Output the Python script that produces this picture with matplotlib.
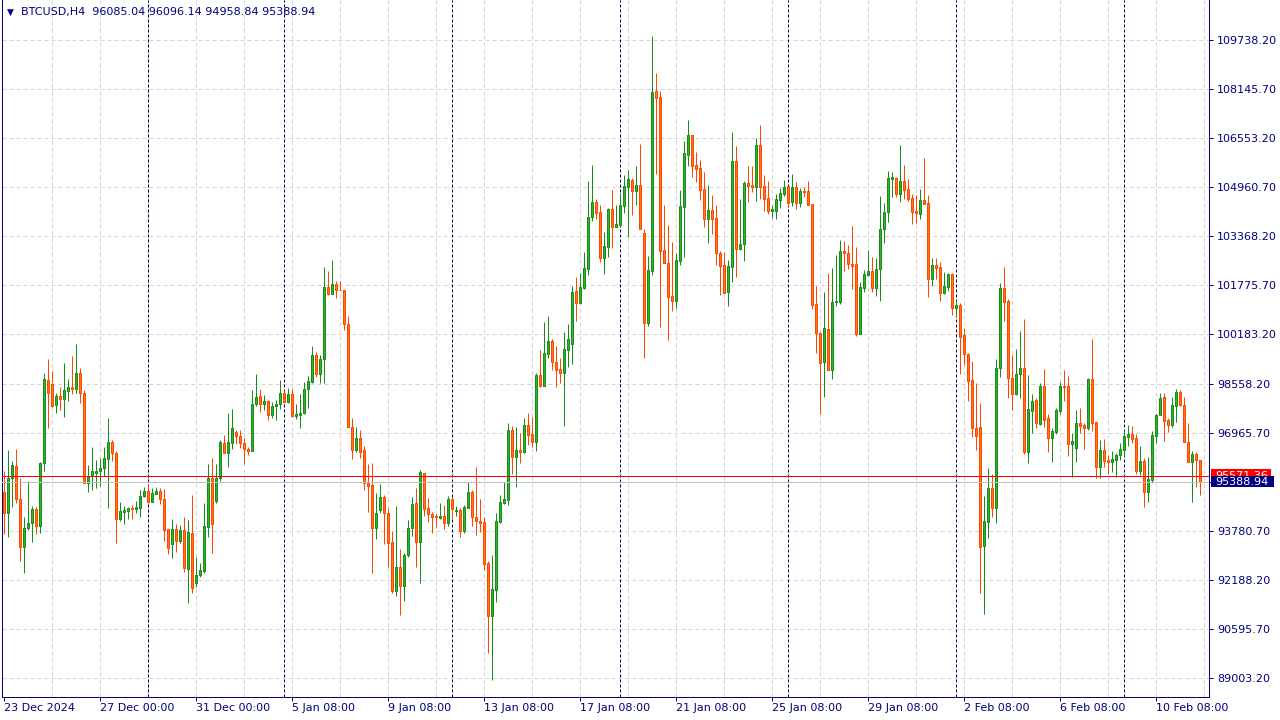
import numpy as np
import matplotlib
matplotlib.use("Agg")
import matplotlib.pyplot as plt
from matplotlib.patches import Rectangle
import matplotlib.transforms as mtrans

# ---------------- data (H4 candles) ----------------
opens = [
    95037, 94355, 95492, 95893, 94810, 93272, 93867, 94030, 94485, 93954,
    95980, 98688, 98558, 97886, 98168, 98060, 98341, 98450, 98385, 98905,
    98255, 95330, 95579, 95676, 95720, 95828, 96131, 96662, 96305, 94181,
    94409, 94441, 94517, 94485, 94539, 94929, 95081, 94734, 94994, 95081,
    94821, 93846, 93347, 93846, 93467, 93813, 92557, 93716, 92102, 92340,
    92492, 93922, 95492, 94767, 95514, 96630, 96326, 96651, 96987, 96879,
    96630, 96445, 96391, 97919, 98168, 97919, 98005, 97561, 97854, 97897,
    98276, 97984, 98222, 97518, 97550, 97604, 98385, 98634, 99500, 98883,
    99360, 101721, 101494, 101797, 101624, 101613, 100497, 97171, 96413, 96814,
    96413, 95351, 95276, 93889, 94463, 94896, 94376, 93423, 91842, 92622,
    92004, 93001, 93867, 94701, 93434, 95666, 94528, 94333, 94268, 94214,
    94268, 94030, 94821, 94441, 94463, 93791, 94539, 95048, 94225, 94116,
    94073, 92741, 91019, 91863, 94084, 94702, 94788, 97063, 96197, 96413,
    96348, 97226, 96933, 96684, 98851, 98504, 99522, 99956, 99262, 99035,
    98927, 99663, 99847, 101581, 101202, 101689, 102306, 103975, 104473, 104148,
    102664, 103022, 104235, 103672, 103737, 104354, 104972, 105188, 104842, 105026,
    103455, 100552, 102242, 108081, 107886, 102913, 102480, 101418, 101267, 102567,
    104322, 106012, 106640, 105676, 105578, 104885, 103932, 104213, 103953, 102805,
    102426, 101537, 102371, 105805, 102934, 103097, 105090, 105025, 104971, 106325,
    104993, 104603, 104191, 104191, 104548, 104743, 104993, 104462, 104960, 104451,
    104830, 104830, 104408, 101158, 100204, 99284, 100345, 99013, 101212, 101234,
    102880, 102805, 102458, 102458, 100194, 101689, 102101, 102231, 101689, 102285,
    103585, 104137, 105221, 105253, 104722, 105156, 104896, 104603, 104191, 104094,
    104538, 104441, 101982, 102426, 102361, 101527, 101722, 102133, 101039, 101126,
    100151, 99533, 98688, 97117, 97150, 93304, 94084, 95167, 94539, 99067,
    101667, 101256, 98742, 98222, 98872, 99067, 96359, 97692, 98038, 97258,
    98493, 97442, 96792, 97009, 97692, 98493, 98493, 96597, 96467, 97291,
    97226, 97139, 98710, 97323, 95872, 96413, 96088, 96034, 96088, 96251,
    96424, 96825, 96933, 96814, 95742, 96056, 95048, 95438, 96879, 97551,
    98125, 97388, 97226, 97843, 98298, 97865, 96662, 96023, 96283, 96085.04,
]
highs = [
    95731, 96413, 96056, 96446, 95503, 94225, 95406, 94593, 94572, 96012,
    98926, 99370, 98991, 98255, 98450, 99251, 98710, 99468, 99858, 99067,
    98363, 95926, 96521, 96088, 96153, 96500, 97453, 96738, 96391, 94723,
    94593, 94571, 94615, 94766, 95113, 95221, 95308, 95167, 95200, 95167,
    95146, 93846, 94160, 94008, 93976, 94225, 94138, 94951, 92947, 92752,
    94702, 95958, 96153, 95958, 96738, 96901, 97605, 97746, 97063, 97063,
    96814, 96521, 98363, 98883, 98395, 98200, 98049, 97962, 98038, 98688,
    98363, 98417, 98395, 97908, 98222, 98634, 98829, 99804, 99609, 99500,
    102371, 102230, 102588, 101905, 101905, 101613, 100768, 97442, 97171, 97063,
    96543, 95958, 96001, 95026, 95308, 94951, 94528, 93791, 94593, 93196,
    93076, 94138, 94896, 95167, 95763, 95677, 94853, 94398, 94333, 94701,
    94636, 94918, 94875, 94593, 94517, 94626, 95373, 95113, 95860, 94810,
    94225, 92806, 93001, 94377, 94951, 95384, 97280, 97193, 97172, 96977,
    97464, 97605, 97497, 98927, 99663, 100573, 100768, 100021, 99793, 99403,
    100248, 100508, 101743, 102046, 102176, 102848, 105156, 105676, 104571, 104376,
    103498, 104267, 104863, 104376, 104755, 105351, 105513, 105242, 105643, 106358,
    103585, 102718, 109868, 108676, 108081, 104376, 103726, 103173, 102805, 104863,
    106456, 107138, 106640, 106098, 105838, 105448, 105026, 104701, 104376, 102892,
    102859, 102588, 106758, 106293, 104570, 105155, 105643, 105643, 106563, 106975,
    105350, 105155, 104375, 104733, 104938, 105188, 105003, 105372, 105133, 104917,
    104949, 105155, 104408, 101754, 100237, 101559, 102176, 102317, 102750, 103238,
    103205, 103076, 103693, 103000, 101862, 102263, 102913, 102696, 102642, 104679,
    104451, 105481, 105459, 105296, 106326, 105676, 105221, 104733, 104701, 104896,
    105914, 104701, 102664, 102664, 102523, 102198, 102177, 102155, 101288, 101180,
    100389, 99555, 99306, 98602, 97930, 94918, 95817, 95633, 99371, 101851,
    102371, 101310, 99501, 99696, 100281, 100671, 98851, 98233, 98114, 98580,
    99046, 97583, 97117, 97767, 98623, 99013, 98818, 96977, 97713, 97778,
    97302, 98742, 100021, 97334, 96738, 96760, 96251, 96381, 96305, 96651,
    97063, 97226, 97193, 96933, 96554, 96164, 96197, 97031, 97583, 98276,
    98276, 97464, 98146, 98385, 98363, 98146, 97280, 96391, 96359, 96096.14,
]
lows = [
    93672, 93597, 94572, 94702, 92817, 92405, 93813, 93434, 93683, 93726,
    95741, 97139, 97800, 97605, 97713, 97496, 98016, 98233, 98276, 97951,
    95330, 95059, 95113, 95189, 95243, 95579, 94539, 96066, 93401, 94116,
    94008, 94181, 94181, 94355, 94246, 94875, 94701, 94734, 94983, 94647,
    93467, 93022, 92892, 93109, 93380, 92459, 91452, 91777, 91950, 92297,
    92427, 93575, 93077, 94702, 95395, 96326, 95850, 96435, 96608, 96467,
    95969, 96250, 96380, 97854, 97659, 97713, 97388, 97464, 97388, 97745,
    97929, 97951, 97496, 97420, 97139, 97572, 97789, 98580, 98796, 98580,
    98580, 101450, 101472, 101364, 101613, 100313, 97171, 96120, 96359, 96142,
    95113, 94409, 92427, 93510, 94376, 93347, 92622, 91777, 91668, 91062,
    91517, 92925, 93618, 92622, 92102, 94268, 94084, 93726, 93921, 94171,
    93856, 93943, 94160, 94268, 93596, 93705, 94528, 93943, 93661, 93748,
    92513, 89800, 88939, 91484, 94052, 94647, 94626, 95633, 95222, 96002,
    96305, 96576, 96522, 96392, 98472, 98504, 99414, 99013, 98472, 98602,
    97193, 99122, 99208, 100617, 101158, 101635, 102101, 103856, 103921, 102534,
    102144, 102697, 102967, 103650, 103672, 104127, 103347, 104051, 104376, 103585,
    99414, 100443, 102101, 105383, 100422, 102480, 99988, 100942, 101017, 102426,
    102697, 105643, 105297, 105134, 104538, 103672, 103152, 103433, 102426, 101451,
    101505, 101104, 101862, 102046, 102924, 102566, 104483, 104808, 104516, 104570,
    104191, 104083, 103963, 103920, 104278, 104678, 104343, 104353, 104245, 104299,
    104624, 104375, 100995, 99565, 97583, 98135, 99013, 98720, 101104, 101158,
    102241, 102296, 101646, 100129, 100183, 101559, 102079, 101559, 101418, 101267,
    103130, 103834, 104646, 104646, 104484, 104571, 104506, 103758, 103780, 103921,
    104408, 101397, 101743, 101971, 101256, 101483, 101592, 100812, 100747, 98883,
    99176, 98017, 96847, 96413, 91777, 91083, 93542, 94247, 94030, 98796,
    100606, 98092, 97713, 98201, 98114, 96283, 96002, 96977, 97117, 97226,
    97172, 96359, 96034, 96933, 97572, 98017, 96218, 95547, 96034, 96955,
    96446, 97063, 97041, 95492, 95514, 95850, 95633, 95709, 95547, 96088,
    96218, 96543, 96651, 95633, 95590, 94572, 94723, 95330, 96630, 97540,
    96706, 96998, 97171, 97323, 97843, 96673, 96023, 94723, 95221, 94958.84,
]
closes = [
    94355, 95492, 95926, 94810, 93272, 93867, 94030, 94485, 93954, 95980,
    98710, 98276, 97854, 98168, 98060, 98363, 98450, 98385, 98905, 98255,
    95330, 95579, 95720, 95731, 95828, 96153, 96662, 96305, 94181, 94431,
    94463, 94517, 94485, 94561, 94918, 95081, 94734, 95005, 95081, 94810,
    93813, 93239, 93846, 93467, 93813, 92567, 93748, 91939, 92340, 92513,
    93943, 95492, 93997, 95492, 96684, 96326, 96673, 97128, 96879, 96651,
    96435, 96391, 97908, 98135, 97897, 98016, 97561, 97843, 97908, 98265,
    97984, 98222, 97529, 97583, 97615, 98395, 98655, 99500, 98872, 99360,
    101721, 101472, 101797, 101602, 101602, 100497, 97171, 96413, 96814, 96359,
    95330, 95254, 93889, 94376, 94896, 94355, 93401, 91842, 92622, 92004,
    93001, 93889, 94658, 93434, 95698, 94506, 94322, 94246, 94225, 94268,
    94051, 94821, 94485, 94463, 93791, 94550, 95048, 94246, 94116, 94051,
    92708, 91019, 91896, 94106, 94723, 94810, 97063, 96197, 96413, 96348,
    97226, 96901, 96684, 98851, 98504, 99555, 99956, 99262, 99013, 98927,
    99696, 100021, 101548, 101202, 101711, 102328, 103986, 104473, 104126, 102664,
    103043, 104235, 103672, 103758, 104376, 104993, 105221, 104842, 105026, 103585,
    100552, 102263, 108048, 107864, 102892, 102480, 101397, 101267, 102588, 104343,
    106055, 106640, 105654, 105557, 104863, 103932, 104213, 103932, 102805, 102404,
    101527, 102393, 105805, 102934, 103097, 105090, 105003, 104971, 106325, 104971,
    104581, 104191, 104245, 104570, 104765, 104960, 104451, 104960, 104451, 104830,
    104798, 104386, 101125, 100226, 99251, 100367, 99013, 101212, 101255, 102880,
    102826, 102447, 102393, 100194, 101700, 102133, 102231, 101689, 102296, 103596,
    104148, 105253, 105286, 104744, 105156, 104874, 104581, 104159, 104126, 104538,
    104419, 101982, 102426, 102339, 101527, 101743, 102133, 101039, 101126, 100097,
    99544, 98667, 97117, 96879, 93272, 94106, 95167, 94539, 99067, 101667,
    101234, 98742, 98222, 98872, 99067, 96359, 97735, 98017, 97280, 98493,
    97388, 96792, 97042, 97713, 98493, 98461, 96597, 96706, 97280, 97204,
    97139, 98710, 97301, 95872, 96413, 96066, 96023, 96121, 96251, 96446,
    96868, 96933, 96781, 95742, 96056, 95048, 95460, 96901, 97551, 98103,
    97366, 97226, 97876, 98298, 97865, 96673, 96023, 96283, 96088, 95388.94,
]

time_labels = ["23 Dec 2024", "27 Dec 00:00", "31 Dec 00:00", "5 Jan 08:00",
               "9 Jan 08:00", "13 Jan 08:00", "17 Jan 08:00", "21 Jan 08:00",
               "25 Jan 08:00", "29 Jan 08:00", "2 Feb 08:00", "6 Feb 08:00",
               "10 Feb 08:00"]
time_label_bars = [0, 24, 48, 72, 96, 120, 144, 168, 192, 216, 240, 264, 288]
week_separator_bars = [36, 70, 112, 154, 196, 238, 280]
grid_bars = [12, 24, 36, 48, 60, 72, 84, 96, 108, 120, 132, 144, 156, 168,
             180, 192, 204, 216, 228, 240, 252, 264, 276, 288, 300]
price_ticks = [109738.20, 108145.70, 106553.20, 104960.70, 103368.20,
               101775.70, 100183.20, 98558.20, 96965.70, 95373.20,
               93780.70, 92188.20, 90595.70, 89003.20]
price_tick_labels = ["109738.20", "108145.70", "106553.20", "104960.70",
                     "103368.20", "101775.70", "100183.20", "98558.20",
                     "96965.70", "95373.20", "93780.70", "92188.20",
                     "90595.70", "89003.20"]
header_symbol = "BTCUSD,H4"
header_ohlc = ["96085.04", "96096.14", "94958.84", "95388.94"]
bid_price = 95388.94
ask_price = 95571.36

# ---------------- styling ----------------
NAVY = "#000080"
SEP = "#000050"
GRID = "#d4d4d4"
BULL_EDGE, BULL_FILL = "#1a8a1a", "#2cb82c"
BEAR_EDGE, BEAR_FILL = "#ff4500", "#ff7a1a"
PX = 0.72  # one pixel in points at dpi=100

W, H = 1280, 720
fig = plt.figure(figsize=(W / 100, H / 100), dpi=100)
fig.patch.set_facecolor("white")
ax = fig.add_axes([2 / W, 23 / H, 1207 / W, 697 / H])
ax.set_facecolor("white")

o = np.array(opens, dtype=float)
h = np.array(highs, dtype=float)
l = np.array(lows, dtype=float)
c = np.array(closes, dtype=float)
x = np.arange(len(o))
up = c >= o

# price scale: 32.5 per pixel, top of axes at 111038
ax.set_ylim(111038 - 32.5 * 697, 111038)
ax.set_xlim(-0.375, 301.375)

# grid
for p in price_ticks:
    ax.axhline(p, color=GRID, lw=PX, ls=(0, (4, 3)), zorder=0.5)
for b in grid_bars:
    ax.axvline(b, color=GRID, lw=PX, ls=(0, (4, 3)), zorder=0.5)
# weekly separators
for b in week_separator_bars:
    ax.axvline(b, color=SEP, lw=PX, ls=(0, (3, 2)), zorder=1)

# candles
edge = np.where(up, BULL_EDGE, BEAR_EDGE)
fill = np.where(up, BULL_FILL, BEAR_FILL)
ax.vlines(x, l, h, colors=edge, lw=PX, zorder=2)
ax.bar(x, np.abs(c - o), bottom=np.minimum(o, c), width=0.5,
       color=fill, edgecolor=edge, linewidth=PX, zorder=3)

# bid / ask lines
ax.axhline(bid_price, color="#c0c0c0", lw=PX, zorder=4)
ax.axhline(ask_price, color="#ff0000", lw=PX, zorder=4)

# spines
for s in ["left", "right", "bottom"]:
    ax.spines[s].set_color(NAVY)
    ax.spines[s].set_linewidth(PX)
ax.spines["top"].set_visible(False)

# axes ticks
ax.yaxis.tick_right()
ax.set_yticks(price_ticks)
ax.set_yticklabels(price_tick_labels)
ax.tick_params(axis="y", direction="out", length=2.9, width=PX,
               colors=NAVY, labelsize=8, pad=2.9)
ax.set_xticks(time_label_bars)
ax.set_xticklabels(time_labels)
for lbl in ax.get_xticklabels():
    lbl.set_horizontalalignment("left")
ax.tick_params(axis="x", direction="out", length=2.6, width=PX,
               colors=NAVY, labelsize=8, pad=1.5)
for lbl in ax.get_xticklabels() + ax.get_yticklabels():
    lbl.set_fontfamily("DejaVu Sans")

# price boxes on the right scale (bid box drawn over the ask box, as in MT4)
tr = mtrans.blended_transform_factory(fig.transFigure, ax.transData)
ask_box = Rectangle((1211 / W, ask_price - 6.6 * 32.5), 60 / W, 13 * 32.5,
                    transform=tr, facecolor="#ff0000", edgecolor="none",
                    clip_on=False, zorder=5)
fig.add_artist(ask_box)
ask_txt = fig.text(1215 / W, ask_price, f"{ask_price:.2f}", transform=tr,
                   color="white", fontsize=8, va="center", ha="left", zorder=6)
bid_box = Rectangle((1211 / W, bid_price - 5.3 * 32.5), 63 / W, 11 * 32.5,
                    transform=tr, facecolor=NAVY, edgecolor="none",
                    clip_on=False, zorder=7)
fig.add_artist(bid_box)
fig.text(1215 / W, bid_price, f"{bid_price:.2f}", transform=tr, color="white",
         fontsize=8, va="center", ha="left", zorder=8)

# header
fig.text(7 / W, 1 - 12 / H, "\u25bc", color=NAVY, fontsize=6.5,
         va="center", ha="left", zorder=9)
fig.text(21 / W, 1 - 12 / H, header_symbol + "  " + " ".join(header_ohlc),
         color=NAVY, fontsize=8, va="center", ha="left", zorder=9)

fig.savefig("out.png", dpi=100, facecolor="white")
